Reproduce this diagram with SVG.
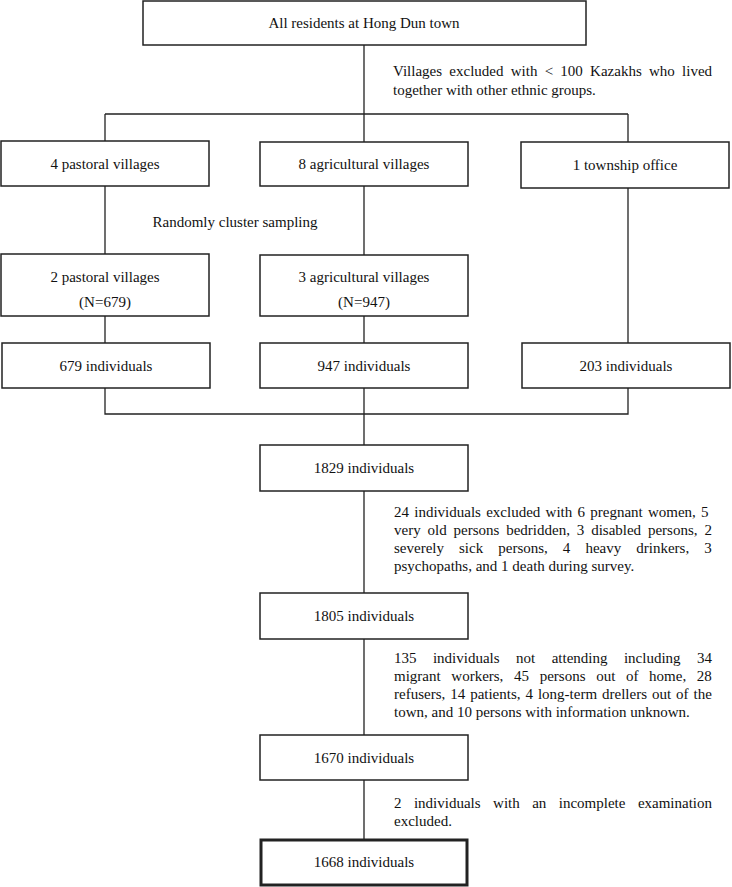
<svg xmlns="http://www.w3.org/2000/svg" width="732" height="887" viewBox="0 0 732 887">
<style>
.box{fill:#fff;stroke:#222;stroke-width:1.5}
.thick{stroke-width:3}
.ln{fill:none;stroke:#222;stroke-width:1.3}
text{font-family:"Liberation Serif","Times New Roman",serif;font-size:15px;fill:#111}
.c{text-anchor:middle}
</style>
<rect width="732" height="887" fill="#fff"/>
<g id="connectors">
<path class="ln" d="M364 45V114M105 114H628M105 114V141M364 114V142M628 114V142M105 186V254M364 186V255M628 188V343M105 316V343M364 316V343M105 388V414H628V388M364 388V445M364 491V593M364 639V735M364 780V839"/>
</g>
<g id="n_all"><rect class="box" x="143" y="1" width="443" height="44"/><text class="c" x="364" y="28">All residents at Hong Dun town</text></g>
<g id="note_villages">
<text x="393" y="76" word-spacing="3.5">Villages excluded with &lt; 100 Kazakhs who lived</text>
<text x="393" y="95">together with other ethnic groups.</text>
</g>
<g id="n_pastoral4"><rect class="box" x="1" y="141" width="208" height="45"/><text class="c" x="105" y="169">4 pastoral villages</text></g>
<g id="n_agri8"><rect class="box" x="260" y="142" width="208" height="44"/><text class="c" x="364" y="169">8 agricultural villages</text></g>
<g id="n_township"><rect class="box" x="521" y="142" width="208" height="46"/><text class="c" x="625" y="170">1 township office</text></g>
<g id="note_sampling"><text class="c" x="235" y="227">Randomly cluster sampling</text></g>
<g id="n_pastoral2"><rect class="box" x="1" y="254" width="208" height="62"/><text class="c" x="105" y="282">2 pastoral villages</text><text class="c" x="105" y="307">(N=679)</text></g>
<g id="n_agri3"><rect class="box" x="260" y="255" width="208" height="61"/><text class="c" x="364" y="282">3 agricultural villages</text><text class="c" x="364" y="307">(N=947)</text></g>
<g id="n_679"><rect class="box" x="2" y="343" width="208" height="45"/><text class="c" x="106" y="371">679 individuals</text></g>
<g id="n_947"><rect class="box" x="260" y="343" width="208" height="45"/><text class="c" x="364" y="371">947 individuals</text></g>
<g id="n_203"><rect class="box" x="522" y="343" width="208" height="45"/><text class="c" x="626" y="371">203 individuals</text></g>
<g id="n_1829"><rect class="box" x="260" y="445" width="208" height="46"/><text class="c" x="364" y="473">1829 individuals</text></g>
<g id="note_excluded24">
<text x="394" y="517" word-spacing="1.5">24 individuals excluded with 6 pregnant women, 5</text>
<text x="394" y="535" word-spacing="3.1">very old persons bedridden, 3 disabled persons, 2</text>
<text x="394" y="553" word-spacing="11.3">severely sick persons, 4 heavy drinkers, 3</text>
<text x="394" y="571">psychopaths, and 1 death during survey.</text>
</g>
<g id="n_1805"><rect class="box" x="260" y="593" width="208" height="46"/><text class="c" x="364" y="621">1805 individuals</text></g>
<g id="note_notattending">
<text x="394" y="663" word-spacing="12.7">135 individuals not attending including 34</text>
<text x="394" y="681" word-spacing="6.9">migrant workers, 45 persons out of home, 28</text>
<text x="394" y="699" word-spacing="1.2">refusers, 14 patients, 4 long-term drellers out of the</text>
<text x="394" y="717">town, and 10 persons with information unknown.</text>
</g>
<g id="n_1670"><rect class="box" x="260" y="735" width="208" height="45"/><text class="c" x="364" y="763">1670 individuals</text></g>
<g id="note_incomplete">
<text x="394" y="808" word-spacing="8.7">2 individuals with an incomplete examination</text>
<text x="394" y="826">excluded.</text>
</g>
<g id="n_1668"><rect class="box thick" x="261" y="840" width="206" height="45"/><text class="c" x="364" y="867">1668 individuals</text></g>
</svg>
